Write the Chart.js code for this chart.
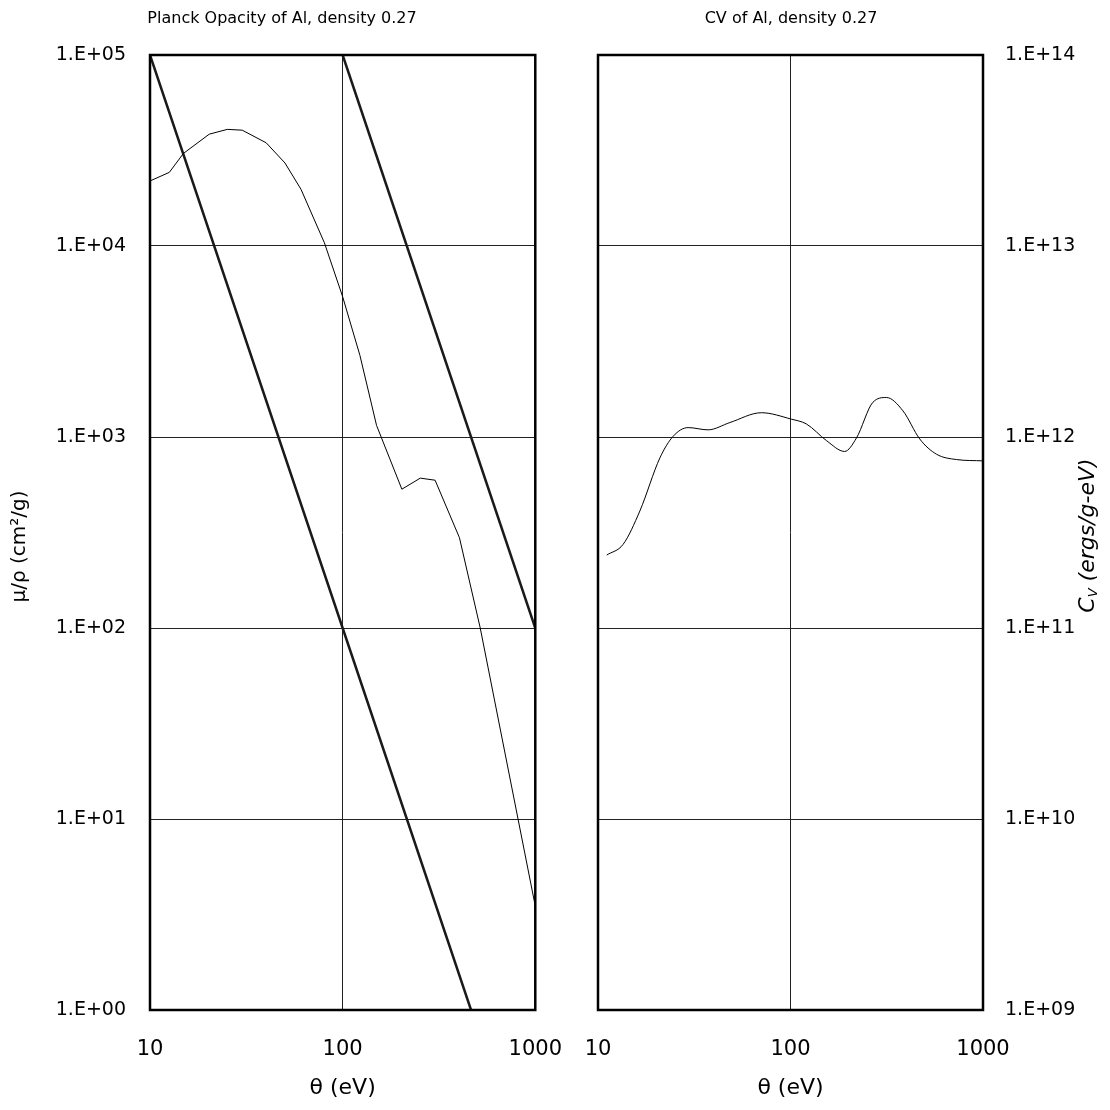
<!DOCTYPE html>
<html>
<head>
<meta charset="utf-8">
<script src="https://cdn.jsdelivr.net/npm/chart.js@4.4.0/dist/chart.umd.min.js"></script>
<style>
    body { margin: 0; background: #fff; }
    #wrap { position: relative; width: 1110px; height: 1110px; overflow: hidden; }
    #opacityChart { position: absolute; left: 0; top: 0; }
    #cvChart { position: absolute; left: 472px; top: 0; }
</style>
</head>
<body>
<div id="wrap">
    <canvas id="opacityChart" width="589" height="1110"></canvas>
    <canvas id="cvChart" width="638" height="1110"></canvas>
</div>
<script>
// temperature axis (shared)
const thetaTicks = [10, 100, 1000];
const thetaTickLabels = ['10', '100', '1000'];

// Planck opacity, left panel
const opacityTicks = [1, 10, 100, 1000, 10000, 100000];
const opacityTickLabels = ['1.E+00', '1.E+01', '1.E+02', '1.E+03', '1.E+04', '1.E+05'];
const opacityTheta = [10, 12.6, 14.9, 20.3, 25.2, 30.1, 40.1, 50.2, 60.8, 80.4, 100, 123, 150, 203, 253, 302, 404, 518, 1000];
const opacityValues = [21900, 24300, 30500, 38500, 40800, 40400, 34700, 27200, 19800, 10400, 5430, 2670, 1150, 533, 609, 594, 297, 100, 3.5];
// the two theta^-3 guide lines
const guideATheta = [10, 100, 464];
const guideAValues = [100000, 100, 1];
const guideBTheta = [100, 1000];
const guideBValues = [100000, 100];

// heat capacity, right panel
const cvTicks = [1e9, 1e10, 1e11, 1e12, 1e13, 1e14];
const cvTickLabels = ['1.E+09', '1.E+10', '1.E+11', '1.E+12', '1.E+13', '1.E+14'];
const cvTheta = [11.1, 13.5, 16.5, 21, 24.6, 29.4, 37.3, 48.4, 70.6, 101, 121, 154, 191, 220, 268, 315, 384, 469, 573, 728, 1000];
const cvValues = [2.41e11, 2.74e11, 4.1e11, 7.8e11, 1.01e12, 1.12e12, 1.09e12, 1.19e12, 1.34e12, 1.24e12, 1.17e12, 9.56e11, 8.4e11, 9.87e11, 1.52e12, 1.61e12, 1.37e12, 9.77e11, 8.13e11, 7.62e11, 7.5e11];

const fontFamily = "'Comic Sans MS', 'DejaVu Sans', sans-serif";
Chart.defaults.font.family = fontFamily;
Chart.defaults.color = '#000';

function toPoints(xs, ys) {
    return xs.map(function(x, i) { return { x: x, y: ys[i] }; });
}

function fixedTicks(values) {
    return function(scale) {
        scale.ticks = values.map(function(v) { return { value: v }; });
    };
}

function tickText(values, labels) {
    return function(value) {
        const i = values.indexOf(value);
        return i >= 0 ? labels[i] : '';
    };
}

// heavy frame around the plot area
const frame = {
    id: 'frame',
    afterDraw(chart) {
        const { ctx, chartArea: a } = chart;
        ctx.save();
        ctx.strokeStyle = '#000';
        ctx.lineWidth = 2.5;
        ctx.strokeRect(a.left, a.top, a.right - a.left, a.bottom - a.top);
        ctx.restore();
    }
};

// left axis title, reading bottom to top
const opacityAxisTitle = 'μ/ρ (cm²/g)';
const opacityTitle = {
    id: 'opacityTitle',
    afterDraw(chart) {
        const { ctx, chartArea: a } = chart;
        ctx.save();
        ctx.font = '20px ' + fontFamily;
        ctx.translate(a.left - 130, (a.top + a.bottom) / 2 + 14);
        ctx.rotate(-Math.PI / 2);
        ctx.textAlign = 'center';
        ctx.textBaseline = 'middle';
        ctx.fillStyle = '#000';
        ctx.fillText(opacityAxisTitle, 0, 0);
        ctx.restore();
    }
};

// right-hand axis title, reading bottom to top, with subscript
const cvSymbol = 'C';
const cvSub = 'V';
const cvUnit = ' (ergs/g-eV)';
const cvTitle = {
    id: 'cvTitle',
    afterDraw(chart) {
        const { ctx, chartArea: a } = chart;
        const big = 'italic 22px ' + fontFamily;
        const small = 'italic 13px ' + fontFamily;
        ctx.save();
        ctx.font = big;
        const w1 = ctx.measureText(cvSymbol).width;
        const w3 = ctx.measureText(cvUnit).width;
        ctx.font = small;
        const w2 = ctx.measureText(cvSub).width;
        ctx.translate(a.right + 105, (a.top + a.bottom) / 2 + 3);
        ctx.rotate(-Math.PI / 2);
        ctx.textBaseline = 'middle';
        ctx.fillStyle = '#000';
        let x = -(w1 + w2 + w3) / 2;
        ctx.font = big;
        ctx.fillText(cvSymbol, x, 0);
        x += w1;
        ctx.font = small;
        ctx.fillText(cvSub, x, 6);
        x += w2;
        ctx.font = big;
        ctx.fillText(cvUnit, x, 0);
        ctx.restore();
    }
};

function thetaAxis() {
    return {
        type: 'logarithmic',
        position: 'bottom',
        min: 10,
        max: 1000,
        grid: { color: '#222', lineWidth: 1, drawTicks: false },
        border: { display: false },
        ticks: {
            padding: 27,
            font: { size: 21 },
            maxRotation: 0,
            autoSkip: false,
            callback: tickText(thetaTicks, thetaTickLabels)
        },
        title: {
            display: true,
            text: 'θ (eV)',
            font: { size: 22 },
            padding: { top: 0, bottom: 9 }
        },
        afterBuildTicks: fixedTicks(thetaTicks),
        afterFit: function(scale) { scale.height = 100; }
    };
}

const titleFont = { size: 16, weight: 'normal', lineHeight: 1.25 };

new Chart(document.getElementById('opacityChart'), {
    type: 'line',
    data: {
        datasets: [
            {
                data: toPoints(opacityTheta, opacityValues),
                borderColor: '#000',
                borderWidth: 1,
                pointRadius: 0,
                tension: 0
            },
            {
                data: toPoints(guideATheta, guideAValues),
                borderColor: '#1a1a1a',
                borderWidth: 2.5,
                pointRadius: 0
            },
            {
                data: toPoints(guideBTheta, guideBValues),
                borderColor: '#1a1a1a',
                borderWidth: 2.5,
                pointRadius: 0
            }
        ]
    },
    options: {
        responsive: false,
        animation: false,
        layout: { padding: { left: 0, right: 25, top: 0, bottom: 0 } },
        plugins: {
            legend: { display: false },
            tooltip: { enabled: false },
            title: {
                display: true,
                text: 'Planck Opacity of Al, density 0.27',
                font: titleFont,
                padding: { top: 9, bottom: 26 }
            }
        },
        scales: {
            x: thetaAxis(),
            y: {
                type: 'logarithmic',
                position: 'left',
                min: 1,
                max: 100000,
                grid: { color: '#222', lineWidth: 1, drawTicks: false },
                border: { display: false },
                ticks: {
                    padding: 24,
                    font: { size: 19 },
                    autoSkip: false,
                    callback: tickText(opacityTicks, opacityTickLabels)
                },
                afterBuildTicks: fixedTicks(opacityTicks),
                afterFit: function(scale) { scale.width = 150; }
            }
        }
    },
    plugins: [frame, opacityTitle]
});

new Chart(document.getElementById('cvChart'), {
    type: 'line',
    data: {
        datasets: [{
            data: toPoints(cvTheta, cvValues),
            xAxisID: 'x',
            yAxisID: 'y',
            borderColor: '#000',
            borderWidth: 1,
            pointRadius: 0,
            cubicInterpolationMode: 'monotone'
        }]
    },
    options: {
        responsive: false,
        animation: false,
        layout: { padding: 0 },
        plugins: {
            legend: { display: false },
            tooltip: { enabled: false },
            title: {
                display: true,
                text: 'CV of Al, density 0.27',
                font: titleFont,
                padding: { top: 9, bottom: 26 }
            }
        },
        scales: {
            x: thetaAxis(),
            y: {
                type: 'logarithmic',
                position: 'right',
                min: 1e9,
                max: 1e14,
                grid: { color: '#222', lineWidth: 1, drawTicks: false },
                border: { display: false },
                ticks: {
                    padding: 22,
                    font: { size: 19 },
                    autoSkip: false,
                    callback: tickText(cvTicks, cvTickLabels)
                },
                afterBuildTicks: fixedTicks(cvTicks),
                afterFit: function(scale) { scale.width = 127; }
            },
            // empty strip that keeps the gap between the two panels
            gap: {
                axis: 'y',
                type: 'linear',
                position: 'left',
                grid: { display: false },
                border: { display: false },
                ticks: { display: false },
                afterFit: function(scale) { scale.width = 126; }
            }
        }
    },
    plugins: [frame, cvTitle]
});
</script>
</body>
</html>
